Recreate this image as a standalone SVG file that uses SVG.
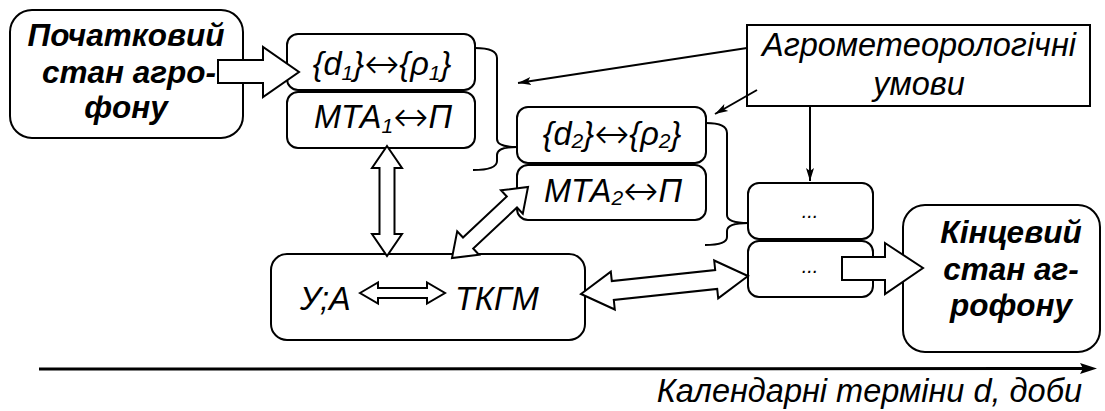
<svg xmlns="http://www.w3.org/2000/svg" width="1105" height="411" viewBox="0 0 1105 411">
  <style>
    .box { fill: #fff; stroke: #000; stroke-width: 2; }
    .hollow { fill: #fff; stroke: #000; stroke-width: 2; stroke-linejoin: miter; }
    .line { fill: none; stroke: #000; stroke-width: 2; }
    .brace { fill: none; stroke: #000; stroke-width: 2; }
    .t { font-family: "Liberation Sans", Arial, sans-serif; font-style: italic; fill: #000; }
    .big { font-size: 31.5px; font-weight: bold; }
    .mid { font-size: 32.5px; }
    .sub { font-size: 21px; }
    .arr { font-family: "DejaVu Sans", sans-serif; font-style: normal; font-weight: 200; font-size: 42px; }
    .dots { font-size: 20px; }
  </style>
  <defs>
    <marker id="head" markerWidth="14" markerHeight="10" refX="13" refY="5" orient="auto" markerUnits="userSpaceOnUse">
      <path d="M0,1 L13,5 L0,9 L3,5 Z" fill="#000"/>
    </marker>
  </defs>

  <!-- initial state -->
  <g id="start">
    <rect class="box" x="10" y="10" width="233" height="128" rx="22"/>
    <text class="t big" x="126" y="46" text-anchor="middle">Початковий</text>
    <text class="t big" x="129" y="83" text-anchor="middle">стан агро-</text>
    <text class="t big" x="126" y="118" text-anchor="middle">фону</text>
  </g>

  <!-- stage 1 -->
  <g id="stage1-d">
    <rect class="box" x="287" y="34" width="188" height="56" rx="11"/>
    <text class="t mid" x="382" y="75" text-anchor="middle">{d<tspan class="sub" dy="5">1</tspan><tspan dy="-5">}</tspan><tspan class="arr" dy="3">↔</tspan><tspan dy="-3">{ρ</tspan><tspan class="sub" dy="5">1</tspan><tspan dy="-5">}</tspan></text>
  </g>
  <g id="stage1-m">
    <rect class="box" x="287" y="92" width="188" height="56" rx="11"/>
    <text class="t mid" x="383" y="128" text-anchor="middle">МТА<tspan class="sub" dy="5">1</tspan><tspan class="arr" dy="-2">↔</tspan><tspan dy="-3">П</tspan></text>
  </g>

  <!-- stage 2 -->
  <g id="stage2-d">
    <rect class="box" x="517" y="107" width="189" height="56" rx="11"/>
    <text class="t mid" x="612" y="145" text-anchor="middle">{d<tspan class="sub" dy="3">2</tspan><tspan dy="-3">}</tspan><tspan class="arr" dy="3">↔</tspan><tspan dy="-3">{ρ</tspan><tspan class="sub" dy="3">2</tspan><tspan dy="-3">}</tspan></text>
  </g>
  <g id="stage2-m">
    <rect class="box" x="517" y="165" width="189" height="55" rx="11"/>
    <text class="t mid" x="613" y="202" text-anchor="middle">МТА<tspan class="sub" dy="3">2</tspan><tspan class="arr">↔</tspan><tspan dy="-3">П</tspan></text>
  </g>

  <!-- further stages -->
  <g id="stage-n-d">
    <rect class="box" x="748" y="183" width="125" height="56" rx="11"/>
    <text class="t dots" x="810" y="218" text-anchor="middle">...</text>
  </g>
  <g id="stage-n-m">
    <rect class="box" x="748" y="241" width="125" height="56" rx="11"/>
    <text class="t dots" x="810" y="273" text-anchor="middle">...</text>
  </g>

  <!-- weather conditions -->
  <g id="weather">
    <rect class="box" x="747" y="25" width="343" height="81"/>
    <text class="t mid" x="919" y="56" text-anchor="middle">Агрометеорологічні</text>
    <text class="t mid" x="919" y="95" text-anchor="middle">умови</text>
  </g>

  <!-- control and technology -->
  <g id="control">
    <rect class="box" x="271" y="254" width="314" height="86" rx="16"/>
    <text class="t mid" x="300" y="310">У;А</text>
    <text class="t mid" x="455" y="310">ТКГМ</text>
    <polygon class="hollow" stroke-width="1.5" points="360,293 378,282.5 378,288 427,288 427,282.5 445,293 427,303.5 427,298 378,298 378,303.5"/>
  </g>

  <!-- final state -->
  <g id="final">
    <rect class="box" x="903" y="205" width="197" height="147" rx="22"/>
    <text class="t big" x="1011" y="243" text-anchor="middle">Кінцевий</text>
    <text class="t big" x="1011" y="280" text-anchor="middle">стан аг-</text>
    <text class="t big" x="1011" y="316" text-anchor="middle">рофону</text>
  </g>

  <g id="connectors">
    <!-- block arrows -->
    <polygon class="hollow" points="218,60 263,60 263,47 299,72 263,97 263,83 218,83"/>
    <polygon class="hollow" points="842,257 885,257 885,243 923,268 885,294 885,280 842,280"/>
    <polygon class="hollow" points="387,146 402,168 394.5,168 394.5,234 402,234 387,256 372,234 379.5,234 379.5,168 372,168"/>
    <polygon class="hollow" points="528,187 522.8,213.7 517,207.5 473.2,248.5 479,254.7 452,258 457.2,231.3 463,237.5 506.8,196.5 501,190.3"/>
    <polygon class="hollow" points="581,294 614.8,309.5 613.8,300 717.2,288.9 718.2,298.3 748,276 714.2,260.5 715.2,270 611.8,281.1 610.8,271.7"/>

    <!-- braces grouping each stage -->
    <path class="brace" d="M475,48 Q497,48 497,58 L497,139 Q497,147 517,147 Q497,147 497,155 L497,161 Q497,170 473,170"/>
    <path class="brace" d="M706,123 Q727,123 727,133 L727,215 Q727,223 748,223 Q727,223 727,231 L727,237 Q727,245 705,245"/>

    <!-- weather influence -->
    <line class="line" x1="747" y1="48" x2="518" y2="83" marker-end="url(#head)"/>
    <line class="line" x1="757" y1="90" x2="715" y2="114" marker-end="url(#head)"/>
    <line class="line" x1="810" y1="106" x2="810" y2="181" marker-end="url(#head)"/>

    <!-- time axis -->
    <line x1="39" y1="369" x2="1085" y2="368.5" stroke="#000" stroke-width="3"/>
    <polygon points="1097,368.5 1080,363 1083,368.5 1080,374" fill="#000"/>
  </g>
  <text class="t mid" x="1082" y="402" text-anchor="end">Календарні терміни d, доби</text>
</svg>
